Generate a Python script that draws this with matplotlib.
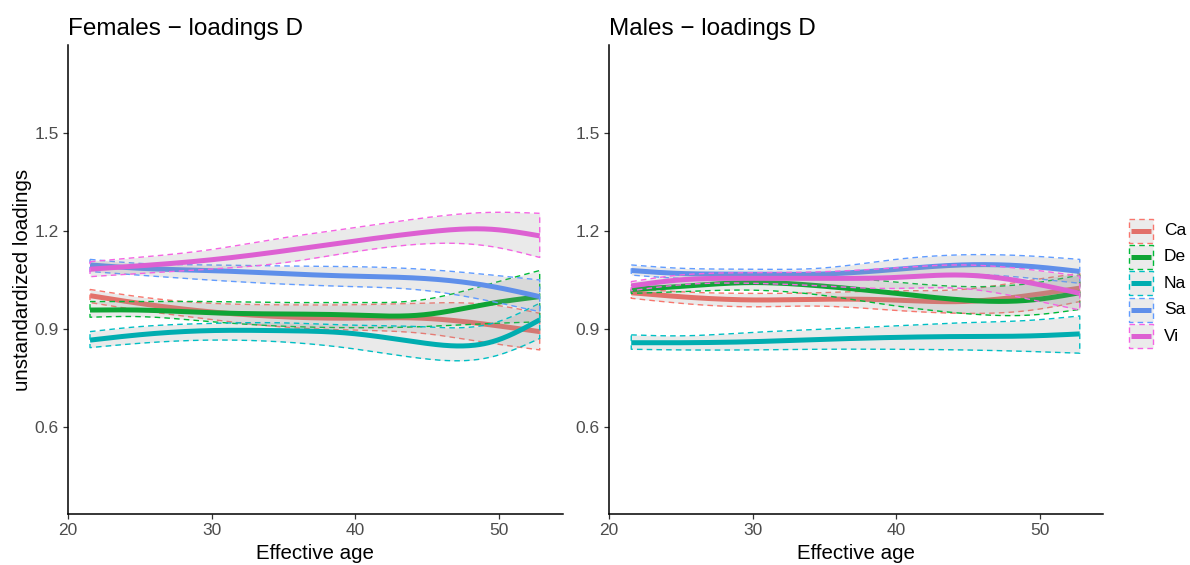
import numpy as np
import matplotlib
matplotlib.use("Agg")
import matplotlib.pyplot as plt
from matplotlib.patches import Rectangle
from matplotlib.lines import Line2D

plt.rcParams['font.family'] = ['Liberation Sans', 'DejaVu Sans']

# ---------------- data ----------------
series = ["Ca", "De", "Na", "Sa", "Vi"]
age = [21.55, 24.9, 29.8, 34.7, 39.6, 44.6, 49.5, 52.8]

# Females
fem_ca = [1.002, 0.979, 0.953, 0.938, 0.933, 0.933, 0.912, 0.892]
fem_ca_lo = [0.981, 0.958, 0.930, 0.907, 0.897, 0.887, 0.856, 0.836]
fem_ca_hi = [1.021, 0.999, 0.979, 0.974, 0.974, 0.979, 0.974, 0.948]
fem_de = [0.958, 0.958, 0.950, 0.946, 0.943, 0.943, 0.979, 0.999]
fem_de_lo = [0.936, 0.938, 0.923, 0.909, 0.904, 0.907, 0.917, 0.922]
fem_de_hi = [0.984, 0.984, 0.984, 0.981, 0.981, 0.989, 1.040, 1.079]
fem_na = [0.866, 0.882, 0.895, 0.895, 0.887, 0.858, 0.861, 0.928]
fem_na_lo = [0.843, 0.856, 0.866, 0.861, 0.841, 0.810, 0.815, 0.871]
fem_na_hi = [0.892, 0.907, 0.917, 0.919, 0.912, 0.907, 0.917, 0.979]
fem_sa = [1.096, 1.086, 1.079, 1.070, 1.062, 1.055, 1.030, 0.999]
fem_sa_lo = [1.076, 1.065, 1.050, 1.038, 1.030, 1.019, 0.984, 0.953]
fem_sa_hi = [1.113, 1.101, 1.096, 1.093, 1.091, 1.083, 1.065, 1.050]
fem_vi = [1.083, 1.093, 1.111, 1.137, 1.167, 1.195, 1.205, 1.185]
fem_vi_lo = [1.060, 1.070, 1.083, 1.101, 1.134, 1.160, 1.152, 1.119]
fem_vi_hi = [1.106, 1.119, 1.142, 1.177, 1.208, 1.239, 1.257, 1.254]

# Males
mal_ca = [1.011, 0.999, 0.989, 0.991, 0.989, 0.984, 1.004, 1.025]
mal_ca_lo = [0.994, 0.979, 0.968, 0.970, 0.958, 0.948, 0.958, 0.984]
mal_ca_hi = [1.024, 1.014, 1.009, 1.011, 1.017, 1.021, 1.050, 1.070]
mal_de = [1.021, 1.030, 1.042, 1.032, 1.011, 0.989, 0.989, 1.011]
mal_de_lo = [1.009, 1.014, 1.019, 1.004, 0.973, 0.948, 0.943, 0.960]
mal_de_hi = [1.035, 1.050, 1.065, 1.062, 1.045, 1.030, 1.040, 1.065]
mal_na = [0.858, 0.858, 0.861, 0.868, 0.874, 0.877, 0.879, 0.885]
mal_na_lo = [0.838, 0.836, 0.836, 0.838, 0.838, 0.836, 0.831, 0.826]
mal_na_hi = [0.882, 0.879, 0.889, 0.899, 0.909, 0.919, 0.927, 0.940]
mal_sa = [1.079, 1.070, 1.068, 1.068, 1.081, 1.096, 1.091, 1.076]
mal_sa_lo = [1.065, 1.055, 1.052, 1.055, 1.060, 1.068, 1.055, 1.040]
mal_sa_hi = [1.096, 1.086, 1.083, 1.086, 1.111, 1.127, 1.123, 1.113]
mal_vi = [1.032, 1.050, 1.055, 1.055, 1.057, 1.065, 1.040, 1.009]
mal_vi_lo = [1.017, 1.035, 1.040, 1.032, 1.024, 1.024, 0.989, 0.958]
mal_vi_hi = [1.045, 1.065, 1.072, 1.075, 1.086, 1.096, 1.081, 1.062]

titles = ["Females \u2212 loadings D", "Males \u2212 loadings D"]
yticks = [0.6, 0.9, 1.2, 1.5]
xticks = [20, 30, 40, 50]

# ---------------- style ----------------
edge_cols = ["#F8766D", "#00BA38", "#00BFC4", "#619CFF", "#F564E3"]
line_cols = ["#E2716A", "#0FA435", "#00ADB0", "#5F8FEA", "#DD60D2"]


def natural_spline(x, y, n=300):
    x = np.asarray(x, float)
    y = np.asarray(y, float)
    m = len(x)
    h = np.diff(x)
    A = np.zeros((m, m))
    b = np.zeros(m)
    A[0, 0] = 1
    A[-1, -1] = 1
    for i in range(1, m - 1):
        A[i, i - 1] = h[i - 1]
        A[i, i] = 2 * (h[i - 1] + h[i])
        A[i, i + 1] = h[i]
        b[i] = 3 * ((y[i + 1] - y[i]) / h[i] - (y[i] - y[i - 1]) / h[i - 1])
    c = np.linalg.solve(A, b)
    xs = np.linspace(x[0], x[-1], n)
    idx = np.clip(np.searchsorted(x, xs) - 1, 0, m - 2)
    dx = xs - x[idx]
    bb = (y[idx + 1] - y[idx]) / h[idx] - h[idx] * (2 * c[idx] + c[idx + 1]) / 3
    dd = (c[idx + 1] - c[idx]) / (3 * h[idx])
    ys = y[idx] + bb * dx + c[idx] * dx ** 2 + dd * dx ** 3
    return xs, ys


fig = plt.figure(figsize=(11.9, 5.65), dpi=100)
W, H = 1190, 565
ax1 = fig.add_axes([67.7 / W, 1 - 514.3 / H, (563 - 67.7) / W, (514.3 - 45) / H])
ax2 = fig.add_axes([609 / W, 1 - 514.3 / H, (1103 - 609) / W, (514.3 - 45) / H])

panels = [
    (ax1, [(fem_ca, fem_ca_lo, fem_ca_hi), (fem_de, fem_de_lo, fem_de_hi),
           (fem_na, fem_na_lo, fem_na_hi), (fem_sa, fem_sa_lo, fem_sa_hi),
           (fem_vi, fem_vi_lo, fem_vi_hi)]),
    (ax2, [(mal_ca, mal_ca_lo, mal_ca_hi), (mal_de, mal_de_lo, mal_de_hi),
           (mal_na, mal_na_lo, mal_na_hi), (mal_sa, mal_sa_lo, mal_sa_hi),
           (mal_vi, mal_vi_lo, mal_vi_hi)]),
]

dash = (0, (4, 3))
for pi, (ax, data) in enumerate(panels):
    for k, (mid, lo, hi) in enumerate(data):
        xs, ym = natural_spline(age, mid)
        _, yl = natural_spline(age, lo)
        _, yh = natural_spline(age, hi)
        z = 2 + 3 * k
        ax.fill_between(xs, yl, yh, color="#999999", alpha=0.2, lw=0, zorder=z)
        ax.plot(xs, ym, color=line_cols[k], lw=3.6, solid_capstyle="butt", zorder=z + 1)
        px = np.concatenate([xs, xs[::-1], xs[:1]])
        py = np.concatenate([yh, yl[::-1], yh[:1]])
        ax.plot(px, py, color=edge_cols[k], lw=1.0, linestyle=dash, zorder=z + 2)

    ax.set_xlim(20.0, 54.42)
    ax.set_ylim(0.333, 1.769)
    ax.set_xticks(xticks)
    ax.set_yticks(yticks)
    ax.set_yticklabels([f"{t:.1f}" for t in yticks])
    for s in ["top", "right"]:
        ax.spines[s].set_visible(False)
    for s in ["left", "bottom"]:
        ax.spines[s].set_linewidth(1.1)
        ax.spines[s].set_color("black")
    ax.tick_params(axis="both", length=3.5, width=0.9, color="#333333",
                   labelcolor="#4D4D4D", labelsize=12.5, pad=3)
    ax.set_xlabel("Effective age", fontsize=14.8, color="black", labelpad=4)
    ax.set_title(titles[pi], loc="left", fontsize=17.5, color="black", pad=7)

ax1.set_ylabel("unstandardized loadings", fontsize=14.8, color="black", labelpad=2)

# ---------------- legend (manual, ggplot style) ----------------
lax = fig.add_axes([0, 0, 1, 1], facecolor="none")
lax.set_xlim(0, W)
lax.set_ylim(H, 0)
lax.axis("off")
y0, step = 230.5, 26.4
for k, name in enumerate(series):
    yc = y0 + k * step
    lax.add_patch(Rectangle((1129, yc - 12), 24, 24, facecolor="#EBEBEB",
                            edgecolor=edge_cols[k], lw=1.0, linestyle=dash))
    lax.add_line(Line2D([1131, 1151], [yc, yc], color=line_cols[k], lw=3.6,
                        solid_capstyle="butt"))
    lax.text(1164, yc, name, fontsize=12.5, va="center", ha="left", color="black")

fig.savefig("out.png", dpi=100)
